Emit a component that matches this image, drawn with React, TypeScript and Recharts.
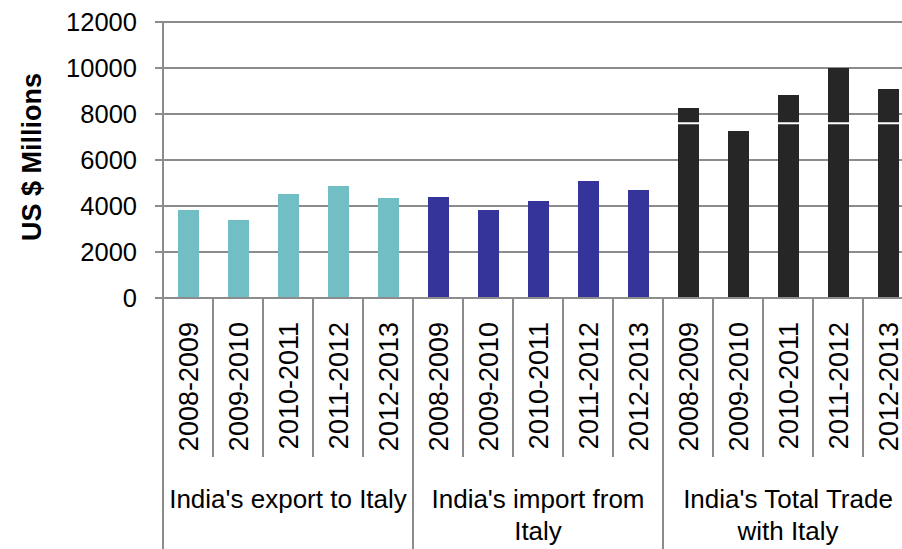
import { Bar, BarChart, CartesianGrid, Cell, ReferenceLine, XAxis, YAxis } from "recharts";

const years = ["2008-2009", "2009-2010", "2010-2011", "2011-2012", "2012-2013"];
const groupLabels = [
  ["India's export to Italy"],
  ["India's import from", "Italy"],
  ["India's Total Trade", "with Italy"],
];
const exportToItaly = [3830, 3390, 4520, 4870, 4350];
const importFromItaly = [4390, 3830, 4220, 5090, 4700];
const totalTrade = [8260, 7260, 8830, 10000, 9090];
const yTicks = [0, 2000, 4000, 6000, 8000, 10000, 12000];

const GROUP_COLORS = ["#71BEC4", "#35349A", "#262626"];
const GRID = "#8c8c8c";
const FONT = "'Liberation Sans', Arial, sans-serif";

const AXIS_Y = 298;
const SLOT = 50;

const data = [exportToItaly, importFromItaly, totalTrade].flatMap((vals, g) =>
  vals.map((v, i) => ({ id: `${g}-${i}`, group: g, year: years[i], value: v }))
);

function CategoryTick(props: any) {
  const { x, index } = props;
  const row = data[index];
  if (!row) return null;
  const left = x - SLOT / 2;
  const isGroupStart = index % years.length === 0;
  const isLast = index === data.length - 1;
  const lines = groupLabels[row.group];
  return (
    <g>
      <line
        x1={left}
        x2={left}
        y1={AXIS_Y}
        y2={isGroupStart ? 560 : 457}
        stroke={GRID}
        strokeWidth={2}
      />
      {isLast && (
        <line x1={x + SLOT / 2} x2={x + SLOT / 2} y1={AXIS_Y} y2={560} stroke={GRID} strokeWidth={2} />
      )}
      <text
        x={0}
        y={0}
        transform={`translate(${x + 10},${322}) rotate(-90)`}
        textAnchor="end"
        fontSize={27}
        fill="#000"
      >
        {row.year}
      </text>
      {index % years.length === 2 &&
        lines.map((t, k) => (
          <text key={k} x={x} y={508 + k * 32} textAnchor="middle" fontSize={26} fill="#000">
            {t}
          </text>
        ))}
    </g>
  );
}

function YTitle() {
  return (
    <text
      transform="translate(41,157) rotate(-90)"
      textAnchor="middle"
      fontSize={27}
      fontWeight="bold"
      fill="#000"
    >
      US $ Millions
    </text>
  );
}

export default function App() {
  return (
    <div
      style={{
        position: "absolute",
        left: 0,
        top: 0,
        width: 902,
        height: 549,
        overflow: "hidden",
        background: "#fff",
        fontFamily: FONT,
      }}
    >
      <BarChart
        width={930}
        height={549}
        data={data}
        margin={{ top: 22, right: 17, left: 0, bottom: 0 }}
        barSize={21}
      >
        <CartesianGrid vertical={false} stroke={GRID} strokeWidth={2} />
        <YAxis
          width={163}
          domain={[0, 12000]}
          ticks={yTicks}
          interval={0}
          tickSize={8}
          tickMargin={18}
          axisLine={{ stroke: GRID, strokeWidth: 2 }}
          tickLine={{ stroke: GRID, strokeWidth: 2 }}
          tick={{ fill: "#000", fontSize: 25.5 }}
          label={{ content: () => <YTitle /> }}
        />
        <XAxis
          dataKey="id"
          interval={0}
          height={251}
          tickLine={false}
          axisLine={{ stroke: GRID, strokeWidth: 2 }}
          tick={<CategoryTick />}
        />
        <Bar dataKey="value" isAnimationActive={false}>
          {data.map((d) => (
            <Cell key={d.id} fill={GROUP_COLORS[d.group]} />
          ))}
        </Bar>
        <ReferenceLine y={7600} stroke="#fff" strokeWidth={2} />
      </BarChart>
    </div>
  );
}
